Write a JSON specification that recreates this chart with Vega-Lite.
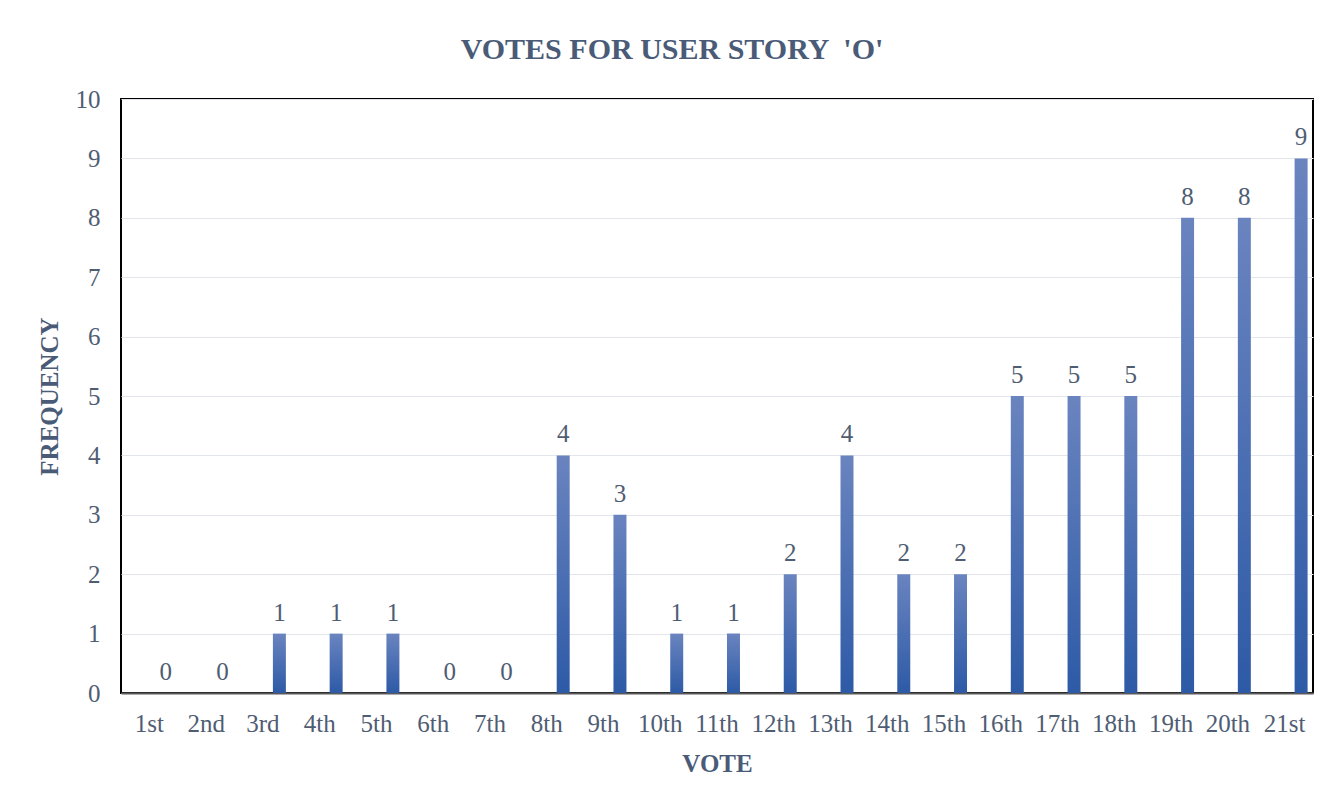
{
  "$schema": "https://vega.github.io/schema/vega-lite/v6.json",
  "autosize": {"type": "none"},
  "padding": {"left": 121, "top": 99, "right": 25, "bottom": 114},
  "width": 1192,
  "height": 594,
  "background": "white",
  "title": {
    "text": "VOTES FOR USER STORY \u00a0'O'",
    "font": "Liberation Serif",
    "fontSize": 30,
    "fontWeight": "bold",
    "color": "#4a5b78",
    "anchor": "middle",
    "dx": -45,
    "offset": 22
  },
  "data": {
    "values": [
      {"vote": "1st", "series": "O", "frequency": 0},
      {"vote": "2nd", "series": "O", "frequency": 0},
      {"vote": "3rd", "series": "O", "frequency": 1},
      {"vote": "4th", "series": "O", "frequency": 1},
      {"vote": "5th", "series": "O", "frequency": 1},
      {"vote": "6th", "series": "O", "frequency": 0},
      {"vote": "7th", "series": "O", "frequency": 0},
      {"vote": "8th", "series": "O", "frequency": 4},
      {"vote": "9th", "series": "O", "frequency": 3},
      {"vote": "10th", "series": "O", "frequency": 1},
      {"vote": "11th", "series": "O", "frequency": 1},
      {"vote": "12th", "series": "O", "frequency": 2},
      {"vote": "13th", "series": "O", "frequency": 4},
      {"vote": "14th", "series": "O", "frequency": 2},
      {"vote": "15th", "series": "O", "frequency": 2},
      {"vote": "16th", "series": "O", "frequency": 5},
      {"vote": "17th", "series": "O", "frequency": 5},
      {"vote": "18th", "series": "O", "frequency": 5},
      {"vote": "19th", "series": "O", "frequency": 8},
      {"vote": "20th", "series": "O", "frequency": 8},
      {"vote": "21st", "series": "O", "frequency": 9}
    ]
  },
  "encoding": {
    "x": {
      "field": "vote",
      "type": "nominal",
      "sort": null,
      "scale": {"paddingInner": 0, "paddingOuter": 0},
      "axis": {
        "title": "VOTE",
        "titleFont": "Liberation Serif",
        "titleFontSize": 25,
        "titleFontWeight": "bold",
        "titleColor": "#4a5b78",
        "titlePadding": 15,
        "labelFont": "Liberation Serif",
        "labelFontSize": 25,
        "labelColor": "#4f5d73",
        "labelAngle": 0,
        "labelPadding": 18,
        "labelOverlap": false,
        "ticks": false,
        "grid": false,
        "domain": true,
        "domainColor": "#595959",
        "domainWidth": 2
      }
    },
    "xOffset": {
      "field": "series",
      "type": "nominal",
      "scale": {"domain": ["blank", "O"], "paddingInner": 0.606, "paddingOuter": 0.164}
    },
    "y": {
      "field": "frequency",
      "type": "quantitative",
      "scale": {"domain": [0, 10], "nice": false},
      "axis": {
        "title": "FREQUENCY",
        "titleFont": "Liberation Serif",
        "titleFontSize": 25,
        "titleFontWeight": "bold",
        "titleColor": "#4a5b78",
        "titlePadding": 13,
        "labelFont": "Liberation Serif",
        "labelFontSize": 25,
        "labelColor": "#4f5d73",
        "labelPadding": 21,
        "labelOverlap": false,
        "values": [0, 1, 2, 3, 4, 5, 6, 7, 8, 9, 10],
        "ticks": false,
        "domain": false,
        "grid": true,
        "gridColor": "#e2e5ea",
        "gridWidth": 1
      }
    }
  },
  "layer": [
    {
      "mark": {
        "type": "bar",
        "fill": {
          "gradient": "linear",
          "x1": 0, "y1": 0, "x2": 0, "y2": 1,
          "stops": [
            {"offset": 0, "color": "#6a84bf"},
            {"offset": 1, "color": "#2d5aa6"}
          ]
        }
      }
    },
    {
      "mark": {
        "type": "text",
        "font": "Liberation Serif",
        "fontSize": 25,
        "color": "#4f5d73",
        "baseline": "alphabetic",
        "dy": -13
      },
      "encoding": {"text": {"field": "frequency", "type": "quantitative"}}
    }
  ],
  "config": {
    "view": {"stroke": "black", "strokeWidth": 2}
  }
}
